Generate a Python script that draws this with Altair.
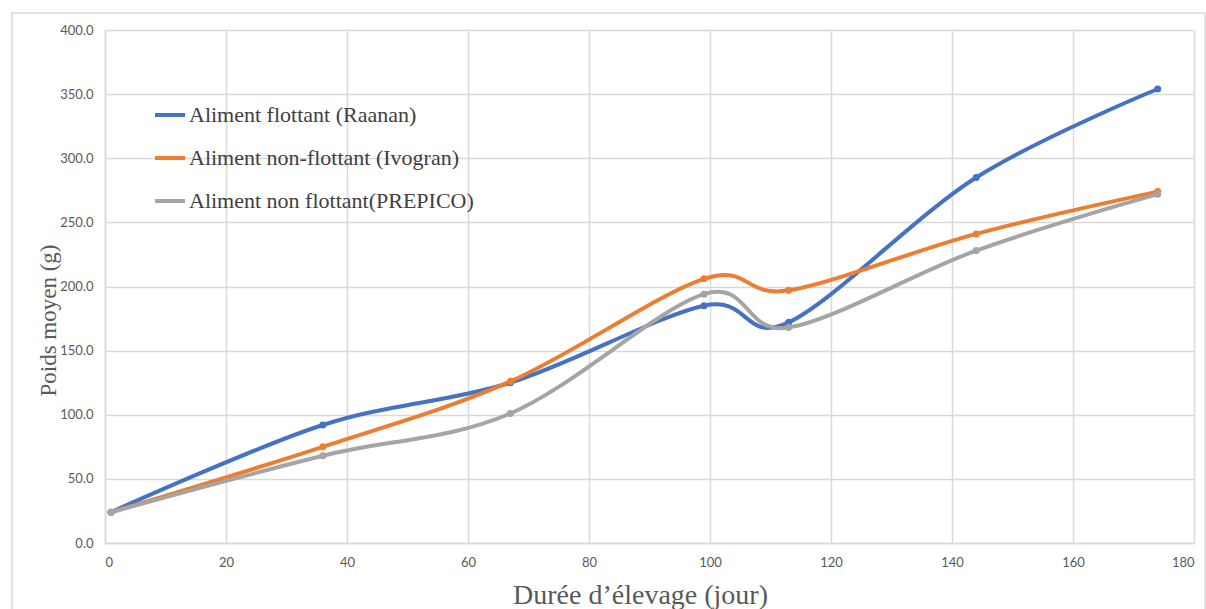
import altair as alt
import pandas as pd

# Days of rearing at each weighing
jours = [1, 36, 67, 99, 113, 144, 174]

# Mean weight (g) per feed type
raanan = [24.0, 92.0, 125.0, 185.0, 172.0, 285.0, 354.0]
ivogran = [24.0, 75.0, 126.0, 206.0, 197.0, 241.0, 274.0]
prepico = [24.0, 68.0, 101.0, 194.0, 168.0, 228.0, 272.0]

series_names = [
    "Aliment flottant (Raanan)",
    "Aliment non-flottant (Ivogran)",
    "Aliment non flottant(PREPICO)",
]
series_values = [raanan, ivogran, prepico]
series_colors = ["#4472C4", "#ED7D31", "#A5A5A5"]

rows = []
for name, values in zip(series_names, series_values):
    for j, v in zip(jours, values):
        rows.append({"jour": j, "poids": v, "serie": name})
df = pd.DataFrame(rows)

W, H = 1089, 513

x_enc = alt.X(
    "jour:Q",
    scale=alt.Scale(domain=[0, 180], nice=False),
    axis=alt.Axis(values=list(range(0, 181, 20)), title="Durée d’élevage (jour)",
                  titleX=535, titleY=52),
)
y_enc = alt.Y(
    "poids:Q",
    scale=alt.Scale(domain=[0, 400], nice=False),
    axis=alt.Axis(values=list(range(0, 401, 50)), format=".1f", title="Poids moyen (g)",
                  titleX=-57, titleY=290),
)
color_enc = alt.Color(
    "serie:N",
    scale=alt.Scale(domain=series_names, range=series_colors),
    sort=series_names,
    legend=alt.Legend(
        title=None,
        orient="none",
        legendX=48,
        legendY=68,
        symbolType="stroke",
        symbolStrokeWidth=4,
        symbolSize=900,
        labelFont="Liberation Serif",
        labelFontSize=22,
        labelColor="#404040",
        labelOffset=2,
        rowPadding=15,
        labelLimit=450,
    ),
)

lines = alt.Chart(df).mark_line(interpolate="cardinal", strokeWidth=4).encode(
    x=x_enc, y=y_enc, color=color_enc, detail="serie:N"
)
points = alt.Chart(df).mark_point(filled=True, size=50, opacity=1).encode(
    x="jour:Q", y="poids:Q",
    color=alt.Color("serie:N", scale=alt.Scale(domain=series_names, range=series_colors), legend=None),
)

# Outer frame around the whole figure
frame = alt.Chart(pd.DataFrame({"f": [0]})).mark_rect(
    fill=None, stroke="#d9d9d9", strokeWidth=1.5
).encode(
    x=alt.value(-93), x2=alt.value(1100), y=alt.value(-17), y2=alt.value(600)
)

chart = alt.layer(frame, lines, points).properties(
    width=W,
    height=H,
    autosize=alt.AutoSizeParams(type="none"),
    padding={"left": 105, "top": 30, "right": 12, "bottom": 66},
).configure_view(stroke=None).configure_axis(
    grid=True,
    gridColor="#d9d9d9",
    gridWidth=1.5,
    domainColor="#d9d9d9",
    domainWidth=1.5,
    ticks=False,
    labelFont="Lato",
    labelFontSize=13,
    labelColor="#595959",
    titleFont="Liberation Serif",
    titleFontWeight="normal",
    titleColor="#595959",
    titleBaseline="middle",
    titleAlign="center",
).configure_axisX(
    labelPadding=13,
    titleFontSize=28,
).configure_axisY(
    labelPadding=12,
    titleFontSize=23,
)

chart.save("out.html", embed_options={"renderer": "svg", "actions": False})
